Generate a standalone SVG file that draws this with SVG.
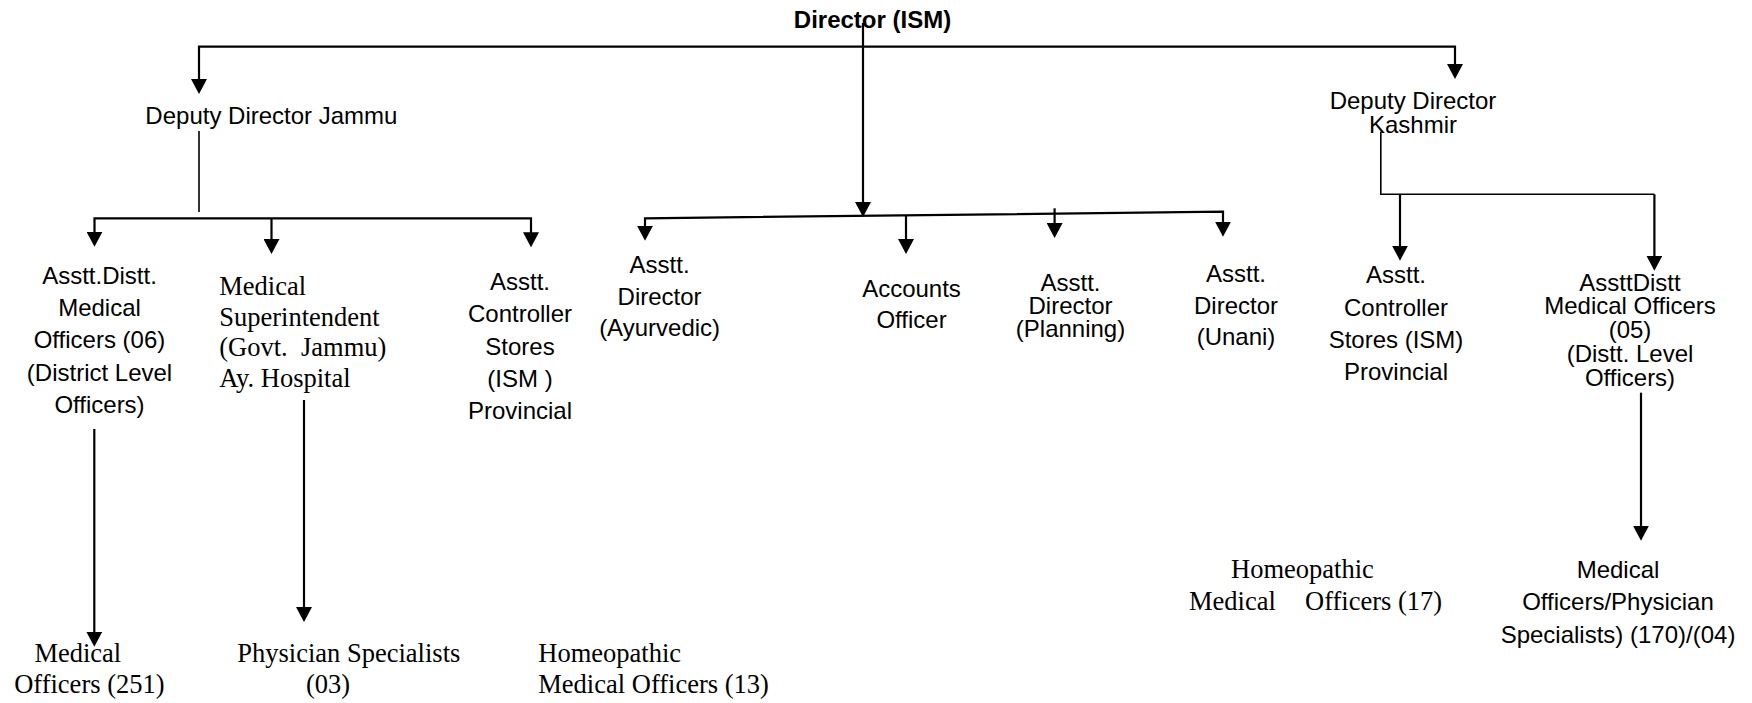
<svg xmlns="http://www.w3.org/2000/svg" width="1752" height="703" viewBox="0 0 1752 703">
<style>
.s{font-family:"Liberation Sans",Arial,sans-serif;font-size:24px;fill:#000;text-anchor:middle}
.b{font-weight:bold}
.t{font-family:"Liberation Serif","Times New Roman",serif;font-size:26.5px;fill:#000;white-space:pre}
.w{fill:none;stroke:#000;stroke-width:2.2}
.n{fill:none;stroke:#000;stroke-width:1.6}
</style>
<defs>
<marker id="ah" viewBox="0 0 15 16" markerUnits="userSpaceOnUse" markerWidth="15" markerHeight="16" refX="7" refY="8" orient="auto-start-reverse">
<path d="M0,0 L15,8 L0,16 z" fill="#000"/>
</marker>
</defs>
<rect width="1752" height="703" fill="#fff"/>
<g id="connectors">
<path class="w" d="M863,46.7 H199 V86" marker-end="url(#ah)"/>
<path class="w" d="M863,46.7 H1455 V71" marker-end="url(#ah)"/>
<path class="w" d="M863,23 V209" marker-end="url(#ah)"/>
<path class="n" d="M199,131 V212"/>
<path class="w" d="M94.5,238.7 V218.3 H531 V239.3" marker-start="url(#ah)" marker-end="url(#ah)"/>
<path class="w" d="M271.5,218.3 V246" marker-end="url(#ah)"/>
<path class="w" d="M645,232.7 V218.3 L1223,211.7 V228.7" marker-start="url(#ah)" marker-end="url(#ah)"/>
<path class="w" d="M906,215.3 V246" marker-end="url(#ah)"/>
<path class="w" d="M1054.6,208.3 V230" marker-end="url(#ah)"/>
<path class="n" d="M1380.8,131.7 V194.3 H1654.4"/>
<path class="w" d="M1654.4,194.3 V262.7" marker-end="url(#ah)"/>
<path class="w" d="M1400,194.3 V252.7" marker-end="url(#ah)"/>
<path class="w" d="M94.3,429 V638.7" marker-end="url(#ah)"/>
<path class="w" d="M304,400 V614" marker-end="url(#ah)"/>
<path class="w" d="M1641,392.7 V532.7" marker-end="url(#ah)"/>
</g>
<g id="director"><text class="s b" x="872.5" y="28.3">Director (ISM)</text></g>
<g id="dd-jammu"><text class="s" x="271.4" y="124">Deputy Director Jammu</text></g>
<g id="dd-kashmir"><text class="s"><tspan x="1413" y="109">Deputy Director</tspan><tspan x="1413" y="132.7">Kashmir</tspan></text></g>
<g id="adm-jammu"><text class="s"><tspan x="99.5" y="284">Asstt.Distt.</tspan><tspan x="99.5" y="316">Medical</tspan><tspan x="99.5" y="348.3">Officers (06)</tspan><tspan x="99.5" y="380.7">(District Level</tspan><tspan x="99.5" y="412.7">Officers)</tspan></text></g>
<g id="med-supdt"><text class="t" xml:space="preserve"><tspan x="219.3" y="295">Medical</tspan><tspan x="219.3" y="325.5">Superintendent</tspan><tspan x="219.3" y="356">(Govt.  Jammu)</tspan><tspan x="219.3" y="386.5">Ay. Hospital</tspan></text></g>
<g id="acs-jammu"><text class="s"><tspan x="520" y="290">Asstt.</tspan><tspan x="520" y="322.3">Controller</tspan><tspan x="520" y="355">Stores</tspan><tspan x="520" y="386.7">(ISM )</tspan><tspan x="520" y="418.5">Provincial</tspan></text></g>
<g id="ad-ayurvedic"><text class="s"><tspan x="659.6" y="272.7">Asstt.</tspan><tspan x="659.6" y="304.5">Director</tspan><tspan x="659.6" y="336">(Ayurvedic)</tspan></text></g>
<g id="accounts"><text class="s"><tspan x="911.5" y="296.7">Accounts</tspan><tspan x="911.5" y="328.3">Officer</tspan></text></g>
<g id="ad-planning"><text class="s"><tspan x="1070.5" y="290.7">Asstt.</tspan><tspan x="1070.5" y="314">Director</tspan><tspan x="1070.5" y="337">(Planning)</tspan></text></g>
<g id="ad-unani"><text class="s"><tspan x="1236" y="282">Asstt.</tspan><tspan x="1236" y="313.5">Director</tspan><tspan x="1236" y="345">(Unani)</tspan></text></g>
<g id="acs-kashmir"><text class="s"><tspan x="1396" y="283.3">Asstt.</tspan><tspan x="1396" y="316">Controller</tspan><tspan x="1396" y="348">Stores (ISM)</tspan><tspan x="1396" y="380">Provincial</tspan></text></g>
<g id="adm-kashmir"><text class="s"><tspan x="1630" y="291">AssttDistt</tspan><tspan x="1630" y="314.3">Medical Officers</tspan><tspan x="1630" y="337.8">(05)</tspan><tspan x="1630" y="362">(Distt. Level</tspan><tspan x="1630" y="386">Officers)</tspan></text></g>
<g id="mo-jammu"><text class="t"><tspan x="34.4" y="662">Medical</tspan><tspan x="14.2" y="693">Officers (251)</tspan></text></g>
<g id="physician"><text class="t"><tspan x="237.3" y="662">Physician Specialists</tspan><tspan x="306" y="693">(03)</tspan></text></g>
<g id="homeo-jammu"><text class="t"><tspan x="538.3" y="662">Homeopathic</tspan><tspan x="538.3" y="693">Medical Officers (13)</tspan></text></g>
<g id="homeo-kashmir"><text class="t"><tspan x="1231" y="578">Homeopathic</tspan><tspan x="1189" y="610">Medical</tspan><tspan x="1305" y="610">Officers (17)</tspan></text></g>
<g id="mo-kashmir"><text class="s"><tspan x="1618" y="578">Medical</tspan><tspan x="1618" y="610">Officers/Physician</tspan><tspan x="1618" y="643">Specialists) (170)/(04)</tspan></text></g>
</svg>
